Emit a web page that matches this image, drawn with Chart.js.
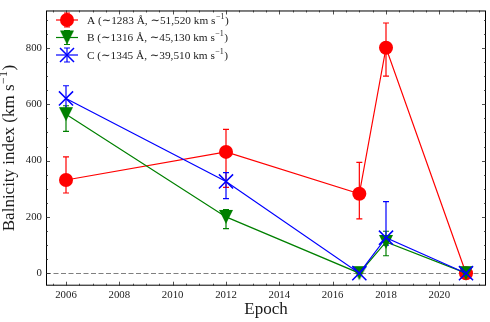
<!DOCTYPE html>
<html>
<head>
<meta charset="utf-8">
<script src="https://cdn.jsdelivr.net/npm/chart.js@4.4.0/dist/chart.umd.min.js"></script>
<style>
  html, body { margin: 0; padding: 0; background: #fff; }
  #wrap { width: 490px; height: 322px; }
</style>
</head>
<body>
<div id="wrap"><canvas id="bi"></canvas></div>
<script>
// epochs and balnicity values
const epochs = [2006, 2012, 2017, 2018, 2021];

const biA = [331, 431, 282, 801, 0];
const biA_lo = [285, 305, 193, 700, null];
const biA_hi = [413, 511, 394, 889, null];

const biB = [565, 200, 0, 111, 0];
const biB_lo = [504, 158, null, 62, null];
const biB_hi = [595, 226, null, 149, null];

const biC = [621, 326, 0, 126, 0];
const biC_lo = [583, 265, null, 100, null];
const biC_hi = [666, 357, null, 254, null];

const seriesNames = ['A', 'B', 'C'];
const seriesDesc = [
    ['A (\u223c1283 \u00c5, \u223c51,520 km s', '\u22121', ')'],
    ['B (\u223c1316 \u00c5, \u223c45,130 km s', '\u22121', ')'],
    ['C (\u223c1345 \u00c5, \u223c39,510 km s', '\u22121', ')']
];
const xTicks = [2006, 2008, 2010, 2012, 2014, 2016, 2018, 2020];
const yTicks = [0, 200, 400, 600, 800];

const SERIF = '"Liberation Serif", "DejaVu Serif", serif';

// downward triangle marker, matplotlib 'v' style
function triMarker(color) {
    const c = document.createElement('canvas');
    c.width = 16; c.height = 16;
    const g = c.getContext('2d');
    g.fillStyle = color;
    g.beginPath();
    g.moveTo(1, 1); g.lineTo(15, 1); g.lineTo(8, 15); g.closePath();
    g.fill();
    return c;
}
const triGreen = triMarker('#008000');

function pts(vals) {
    return epochs.map((e, i) => ({ x: e, y: vals[i] }));
}

const errs = [
    { lo: biA_lo, hi: biA_hi, color: '#ff0000' },
    { lo: biB_lo, hi: biB_hi, color: '#008000' },
    { lo: biC_lo, hi: biC_hi, color: '#0000ff' }
];

function drawRich(ctx, parts, x, y, size) {
    // parts: [normal, superscript, normal]
    ctx.font = size + 'px ' + SERIF;
    ctx.fillText(parts[0], x, y);
    x += ctx.measureText(parts[0]).width;
    ctx.font = Math.round(size * 0.7) + 'px ' + SERIF;
    ctx.fillText(parts[1], x + 0.5, y - size * 0.38);
    x += ctx.measureText(parts[1]).width + 1;
    ctx.font = size + 'px ' + SERIF;
    ctx.fillText(parts[2], x, y);
}

function richWidth(ctx, parts, size) {
    ctx.font = size + 'px ' + SERIF;
    let w = ctx.measureText(parts[0]).width + ctx.measureText(parts[2]).width;
    ctx.font = Math.round(size * 0.7) + 'px ' + SERIF;
    return w + ctx.measureText(parts[1]).width + 1;
}

const extras = {
    id: 'extras',
    beforeDatasetsDraw(chart) {
        const ctx = chart.ctx, xs = chart.scales.x, ys = chart.scales.y, a = chart.chartArea;
        ctx.save();
        // zero line
        ctx.strokeStyle = '#7f7f7f';
        ctx.lineWidth = 1;
        ctx.setLineDash([5, 2.5]);
        const y0 = Math.round(ys.getPixelForValue(0)) + 0.5;
        ctx.beginPath(); ctx.moveTo(a.left, y0); ctx.lineTo(a.right, y0); ctx.stroke();
        ctx.setLineDash([]);
        // error bars
        ctx.lineWidth = 1.2;
        errs.forEach(e => {
            ctx.strokeStyle = e.color;
            epochs.forEach((ep, i) => {
                if (e.lo[i] == null) return;
                const px = xs.getPixelForValue(ep);
                const t = ys.getPixelForValue(e.hi[i]);
                const b = ys.getPixelForValue(e.lo[i]);
                ctx.beginPath();
                ctx.moveTo(px, t); ctx.lineTo(px, b);
                ctx.moveTo(px - 3, t); ctx.lineTo(px + 3, t);
                ctx.moveTo(px - 3, b); ctx.lineTo(px + 3, b);
                ctx.stroke();
            });
        });
        ctx.restore();
    },
    afterDraw(chart) {
        const ctx = chart.ctx, xs = chart.scales.x, ys = chart.scales.y, a = chart.chartArea;
        ctx.save();
        // frame
        ctx.strokeStyle = '#000';
        ctx.lineWidth = 1;
        ctx.strokeRect(a.left + 0.5, a.top + 0.5, a.right - a.left - 1, a.bottom - a.top - 1);
        // inward ticks on all sides
        ctx.strokeStyle = '#222';
        ctx.lineWidth = 0.8;
        ctx.beginPath();
        for (let v = 2005.5; v <= 2021.75; v += 0.5) {
            const px = Math.round(xs.getPixelForValue(v)) + 0.5;
            const len = (v % 2 === 0) ? 4 : 2;
            ctx.moveTo(px, a.bottom); ctx.lineTo(px, a.bottom - len);
            ctx.moveTo(px, a.top); ctx.lineTo(px, a.top + len);
        }
        for (let v = 0; v <= 933; v += 50) {
            const py = Math.round(ys.getPixelForValue(v)) + 0.5;
            const len = (v % 200 === 0) ? 4 : 2;
            ctx.moveTo(a.left, py); ctx.lineTo(a.left + len, py);
            ctx.moveTo(a.right, py); ctx.lineTo(a.right - len, py);
        }
        ctx.stroke();

        // legend
        const rows = [20, 37.5, 55];
        const ds = chart.data.datasets;
        rows.forEach((ry, i) => {
            const d = ds[i];
            ctx.strokeStyle = d.borderColor;
            ctx.fillStyle = d.borderColor;
            ctx.lineWidth = 1.2;
            ctx.beginPath(); ctx.moveTo(56, ry); ctx.lineTo(78, ry); ctx.stroke();
            ctx.beginPath();
            ctx.moveTo(67, ry - 7); ctx.lineTo(67, ry + 7);
            ctx.moveTo(64, ry - 7); ctx.lineTo(70, ry - 7);
            ctx.moveTo(64, ry + 7); ctx.lineTo(70, ry + 7);
            ctx.stroke();
            if (i === 0) {
                ctx.beginPath(); ctx.arc(67, ry, 7, 0, Math.PI * 2); ctx.fill();
            } else if (i === 1) {
                ctx.drawImage(triGreen, 59, ry - 8);
            } else {
                ctx.lineWidth = 1.5;
                ctx.beginPath();
                ctx.moveTo(60, ry - 7); ctx.lineTo(74, ry + 7);
                ctx.moveTo(60, ry + 7); ctx.lineTo(74, ry - 7);
                ctx.stroke();
            }
            ctx.fillStyle = '#1a1a1a';
            ctx.textBaseline = 'middle';
            ctx.textAlign = 'left';
            drawRich(ctx, seriesDesc[i], 87, ry + 1, 11.3);
        });

        // axis titles
        ctx.fillStyle = '#1a1a1a';
        ctx.textBaseline = 'middle';
        ctx.textAlign = 'center';
        ctx.font = '17px ' + SERIF;
        ctx.fillText('Epoch', (a.left + a.right) / 2, 310);
        ctx.translate(10, (a.top + a.bottom) / 2);
        ctx.rotate(-Math.PI / 2);
        const yt = ['Balnicity index (km s', '\u22121', ')'];
        const w = richWidth(ctx, yt, 17);
        ctx.textAlign = 'left';
        drawRich(ctx, yt, -w / 2, 0, 17);
        ctx.restore();
    }
};

const tickFont = { family: SERIF, size: 10.8 };

new Chart(document.getElementById('bi'), {
    type: 'scatter',
    data: {
        datasets: [
            {
                label: seriesNames[0], data: pts(biA), showLine: true,
                borderColor: '#ff0000', backgroundColor: '#ff0000', borderWidth: 1.2,
                pointStyle: 'circle', pointRadius: 7, pointBorderWidth: 0, order: 3
            },
            {
                label: seriesNames[1], data: pts(biB), showLine: true,
                borderColor: '#008000', backgroundColor: '#008000', borderWidth: 1.2,
                pointStyle: triGreen, pointRadius: 8, order: 2
            },
            {
                label: seriesNames[2], data: pts(biC), showLine: true,
                borderColor: '#0000ff', backgroundColor: '#0000ff', borderWidth: 1.2,
                pointStyle: 'crossRot', pointRadius: 10, pointBorderWidth: 1.5, order: 1
            }
        ]
    },
    options: {
        responsive: true,
        maintainAspectRatio: false,
        animation: false,
        layout: { autoPadding: false, padding: { top: 4, right: 4, left: 0, bottom: 0 } },
        plugins: { legend: { display: false }, tooltip: { enabled: false } },
        scales: {
            x: {
                type: 'linear', min: 2005.25, max: 2021.75,
                grid: { display: false, drawTicks: false }, border: { display: false },
                afterBuildTicks: s => { s.ticks = xTicks.map(v => ({ value: v })); },
                afterFit: s => { s.height = 36.3; },
                ticks: { font: tickFont, color: '#222', padding: 3, maxRotation: 0, callback: v => String(v) }
            },
            y: {
                type: 'linear', min: -44.5, max: 933.5,
                grid: { display: false, drawTicks: false }, border: { display: false },
                afterBuildTicks: s => { s.ticks = yTicks.map(v => ({ value: v })); },
                afterFit: s => { s.width = 46; },
                ticks: { font: tickFont, color: '#222', padding: 4, callback: v => String(v) }
            }
        }
    },
    plugins: [extras]
});
</script>
</body>
</html>
